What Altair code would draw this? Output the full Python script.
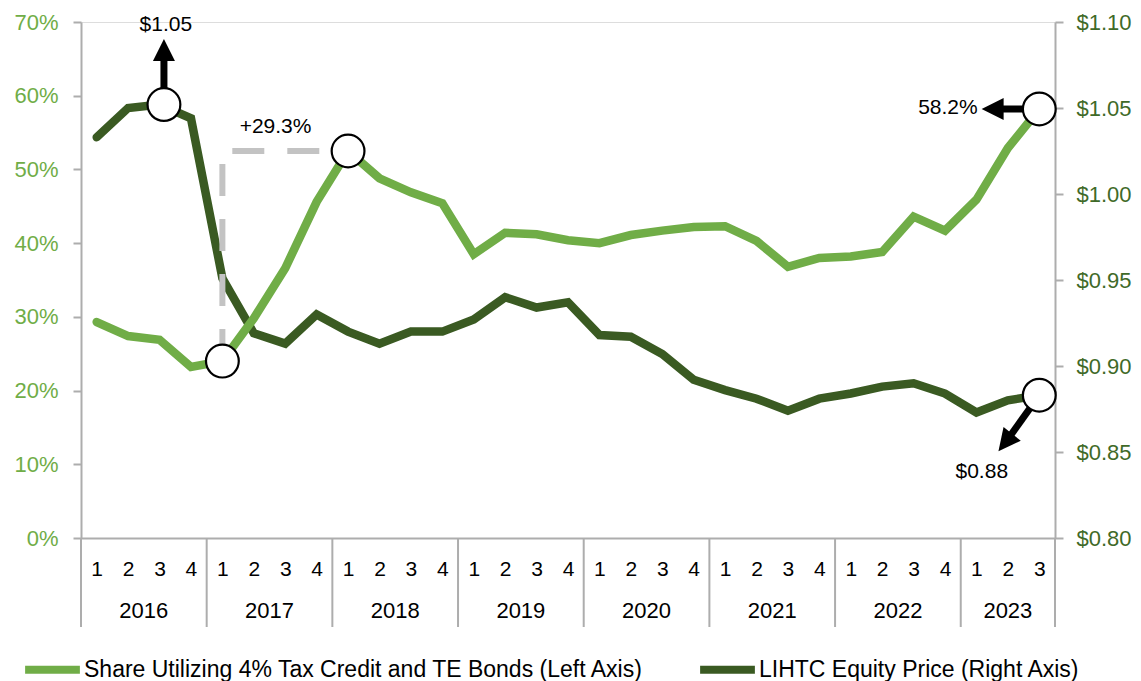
import altair as alt
import pandas as pd

# ---------------- data ----------------
period_year = [2016] * 4 + [2017] * 4 + [2018] * 4 + [2019] * 4 + [2020] * 4 + [2021] * 4 + [2022] * 4 + [2023] * 3
period_q = [1, 2, 3, 4] * 7 + [1, 2, 3]

share = [29.3, 27.4, 26.9, 23.2, 24.0, 29.8, 36.6, 45.6, 52.5, 48.8, 46.9, 45.4,
         38.5, 41.4, 41.2, 40.4, 40.0, 41.1, 41.7, 42.2, 42.3, 40.3, 36.8, 38.0,
         38.2, 38.8, 43.6, 41.7, 45.9, 52.9, 58.2]

price = [1.033, 1.050, 1.052, 1.044, 0.951, 0.919, 0.913, 0.930, 0.920, 0.913, 0.920, 0.920,
         0.927, 0.940, 0.934, 0.937, 0.918, 0.917, 0.907, 0.892, 0.886, 0.881, 0.874, 0.881,
         0.884, 0.888, 0.890, 0.884, 0.873, 0.880, 0.883]

share_name = "Share Utilizing 4% Tax Credit and TE Bonds (Left Axis)"
price_name = "LIHTC Equity Price (Right Axis)"

left_ticks = [0, 10, 20, 30, 40, 50, 60, 70]
right_ticks = [0.80, 0.85, 0.90, 0.95, 1.00, 1.05, 1.10]

# annotations (data units)
share_circles_idx = [4, 8, 30]
share_circles_val = [24.0, 52.5, 58.2]
price_circles_idx = [2.14, 30]
price_circles_val = [1.052, 0.883]

dash_idx = [4, 4, 8]
dash_val = [24.0, 52.5, 52.5]

share_arrow_idx = [30, 28.55]
share_arrow_val = [58.2, 58.2]
share_head = {"idx": [28.55], "share": [58.2], "angle": [270]}

price_arrow_id = ["a", "a", "c", "c"]
price_arrow_idx = [2.14, 2.14, 30, 28.94]
price_arrow_val = [1.052, 1.0831, 0.883, 0.8560]
price_head = {"idx": [2.14, 28.94], "price": [1.0831, 0.8560], "angle": [0, 218.5]}

share_texts = {"idx": [4.55, 28.04], "share": [55.8, 58.3], "text": ["+29.3%", "58.2%"],
               "align": ["left", "right"]}
price_texts = {"idx": [2.2, 28.17], "price": [1.0985, 0.8384], "text": ["$1.05", "$0.88"]}

# ---------------- styling ----------------
FONT = "Liberation Sans"
LIGHT = "#70AD47"
DARK = "#3A5A22"
DARK_LABEL = "#3F6A28"
GRAY = "#ADADAD"

n = len(share)
df = pd.DataFrame({"idx": list(range(n)), "share": share, "price": price,
                   "q": period_q, "year": period_year})
df_share = df.assign(series=share_name)
df_price = df.assign(series=price_name)

years = sorted(set(period_year))
year_df = pd.DataFrame({
    "idx": [sum(i for i, y in enumerate(period_year) if y == yr) / period_year.count(yr) for yr in years],
    "label": [str(y) for y in years],
})
bounds = [min(i for i, y in enumerate(period_year) if y == yr) - 0.5 for yr in years] + [n - 0.5]
bound_df = pd.DataFrame({"idx": bounds})

q_expr = "[" + ",".join("'%d'" % q for q in period_q) + "][datum.value]"

x_enc = alt.X("idx:Q",
              scale=alt.Scale(domain=[-0.5, n - 0.5], nice=False, zero=False),
              axis=alt.Axis(values=list(range(n)), labelExpr=q_expr, ticks=False, tickSize=0,
                            grid=False, domainColor=GRAY, domainWidth=2,
                            labelFontSize=21, labelColor="black", labelFont=FONT,
                            labelPadding=20, labelFlush=False, labelOverlap=False, title=None))

y_left = alt.Y("share:Q",
               scale=alt.Scale(domain=[0, 70], nice=False, zero=False),
               axis=alt.Axis(orient="left", values=left_ticks, labelExpr="datum.value + '%'",
                             grid=False, domainColor=GRAY, domainWidth=2, tickColor=GRAY,
                             tickWidth=2, tickSize=8, labelFontSize=22, labelColor=LIGHT,
                             labelFont=FONT, labelPadding=15, labelFlush=False, title=None))

y_right = alt.Y("price:Q",
                scale=alt.Scale(domain=[0.80, 1.10], nice=False, zero=False),
                axis=alt.Axis(orient="right", values=right_ticks,
                              labelExpr="'$' + format(datum.value, '.2f')",
                              grid=False, domainColor=GRAY, domainWidth=2, tickColor=GRAY,
                              tickWidth=2, tickSize=8, labelFontSize=22, labelColor=DARK_LABEL,
                              labelFont=FONT, labelPadding=13, labelFlush=False, title=None))

color_enc = alt.Color("series:N",
                      scale=alt.Scale(domain=[share_name, price_name], range=[LIGHT, DARK]),
                      legend=alt.Legend(orient="none", legendX=-60, legendY=616,
                                        direction="horizontal", symbolType="stroke",
                                        symbolSize=3000, symbolStrokeWidth=8,
                                        labelFontSize=23, labelFont=FONT, labelColor="black",
                                        labelOffset=0, columnPadding=40, labelLimit=1000,
                                        title=None))

# ---------------- right (price) group ----------------
price_line = alt.Chart(df_price).mark_line(strokeWidth=8.5, strokeCap="round", strokeJoin="miter").encode(
    x=x_enc, y=y_right, color=color_enc)

price_shafts = alt.Chart(pd.DataFrame({"id": price_arrow_id, "idx": price_arrow_idx,
                                       "price": price_arrow_val,
                                       "ord": [0, 1, 0, 1]})).mark_line(
    color="black", strokeWidth=7, strokeCap="butt").encode(
    x=x_enc, y=y_right, detail="id:N", order="ord:Q")

price_circ = alt.Chart(pd.DataFrame({"idx": price_circles_idx, "price": price_circles_val})).mark_point(
    shape="circle", filled=True, fill="white", stroke="black", strokeWidth=2.2, size=1075, opacity=1).encode(
    x=x_enc, y=y_right)

price_heads = alt.Chart(pd.DataFrame(price_head)).mark_point(
    shape="M0,-1.1L1,0.9L-1,0.9Z", filled=True, fill="black", stroke=None, size=484, opacity=1).encode(
    x=x_enc, y=y_right, angle=alt.Angle("angle:Q", scale=None))

price_txt = alt.Chart(pd.DataFrame(price_texts)).mark_text(
    font=FONT, fontSize=21, color="black", align="center", baseline="middle").encode(
    x=x_enc, y=y_right, text="text:N")

right_group = alt.layer(price_line, price_shafts, price_circ, price_heads, price_txt)

# ---------------- left (share) group ----------------
share_line = alt.Chart(df_share).mark_line(strokeWidth=8.5, strokeCap="round", strokeJoin="miter").encode(
    x=x_enc, y=y_left, color=color_enc)

dash = alt.Chart(pd.DataFrame({"idx": dash_idx, "share": dash_val, "ord": [0, 1, 2]})).mark_line(
    color="#C3C3C3", strokeWidth=6, strokeDash=[32, 23], strokeCap="butt").encode(
    x=x_enc, y=y_left, order="ord:Q")

share_shaft = alt.Chart(pd.DataFrame({"idx": share_arrow_idx, "share": share_arrow_val,
                                      "ord": [0, 1]})).mark_line(
    color="black", strokeWidth=7, strokeCap="butt").encode(x=x_enc, y=y_left, order="ord:Q")

share_circ = alt.Chart(pd.DataFrame({"idx": share_circles_idx, "share": share_circles_val})).mark_point(
    shape="circle", filled=True, fill="white", stroke="black", strokeWidth=2.2, size=1075, opacity=1).encode(
    x=x_enc, y=y_left)

share_heads = alt.Chart(pd.DataFrame(share_head)).mark_point(
    shape="M0,-1.1L1,0.9L-1,0.9Z", filled=True, fill="black", stroke=None, size=484, opacity=1).encode(
    x=x_enc, y=y_left, angle=alt.Angle("angle:Q", scale=None))

st = pd.DataFrame(share_texts)
share_txt_l = alt.Chart(st[st["align"] == "left"]).mark_text(
    font=FONT, fontSize=21, color="black", align="left", baseline="middle").encode(
    x=x_enc, y=y_left, text="text:N")
share_txt_r = alt.Chart(st[st["align"] == "right"]).mark_text(
    font=FONT, fontSize=21, color="black", align="right", baseline="middle").encode(
    x=x_enc, y=y_left, text="text:N")

separators = alt.Chart(bound_df).mark_rule(color=GRAY, strokeWidth=2).encode(
    x=x_enc, y=alt.value(516), y2=alt.value(605))

year_labels = alt.Chart(year_df).mark_text(
    font=FONT, fontSize=22, color="black", align="center", baseline="middle").encode(
    x=x_enc, y=alt.value(589), text="label:N")

left_group = alt.layer(share_line, dash, share_shaft, share_circ, share_heads,
                       share_txt_l, share_txt_r, separators, year_labels)

chart = alt.layer(right_group, left_group).resolve_scale(y="independent").properties(
    width=974, height=516,
    padding={"left": 73, "top": 14, "right": 78, "bottom": 160},
    autosize=alt.AutoSizeParams(type="none"),
).configure_view(stroke=None).configure(font=FONT, background="white")

chart.save("out.html", embed_options={"renderer": "svg", "actions": False})
